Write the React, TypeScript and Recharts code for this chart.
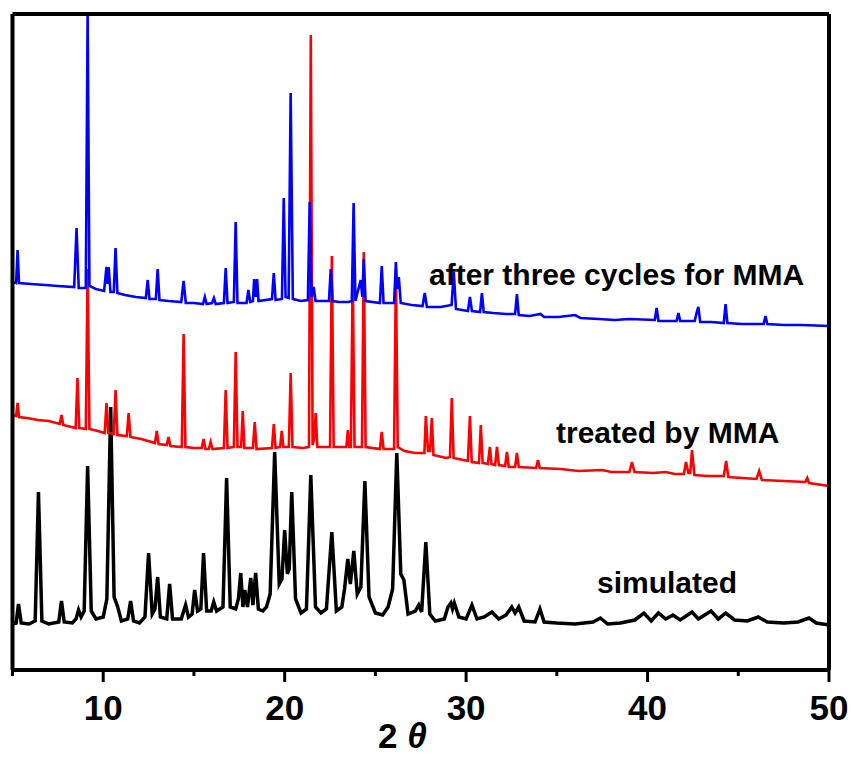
import { LineChart, Line, XAxis, YAxis } from "recharts";

// 2θ / intensity pairs (intensity in arbitrary units, offsets included)
const SIMULATED: [number, number][] = [
  [5.0, 45], [5.2, 46], [5.33, 65], [5.48, 46], [5.9, 45], [6.25, 48], [6.43, 177], [6.62, 48],
  [7.0, 45], [7.55, 47], [7.7, 68], [7.85, 47], [8.3, 46], [8.5, 50], [8.64, 59], [8.78, 52],
  [8.95, 58], [9.14, 203], [9.34, 58], [9.6, 50], [10.0, 52], [10.2, 70], [10.41, 262], [10.6, 72],
  [10.8, 62], [11.0, 48], [11.35, 50], [11.51, 68], [11.67, 48], [12.0, 46], [12.3, 52], [12.5, 116],
  [12.7, 55], [12.85, 60], [13.0, 92], [13.15, 52], [13.5, 50], [13.66, 85], [13.82, 50], [14.3, 50],
  [14.54, 64], [14.7, 52], [14.9, 55], [15.04, 79], [15.2, 58], [15.38, 60], [15.53, 116], [15.7, 58],
  [15.95, 58], [16.09, 67], [16.25, 58], [16.6, 62], [16.8, 191], [17.0, 62], [17.3, 60], [17.45, 70],
  [17.58, 96], [17.7, 62], [17.8, 79], [17.95, 62], [18.13, 91], [18.25, 64], [18.4, 96], [18.55, 60],
  [18.8, 58], [19.0, 62], [19.2, 75], [19.45, 217], [19.7, 85], [19.85, 90], [20.0, 139], [20.15, 95],
  [20.25, 100], [20.39, 177], [20.6, 70], [20.9, 56], [21.2, 60], [21.44, 194], [21.7, 62], [22.0, 56],
  [22.3, 60], [22.6, 137], [22.85, 58], [23.15, 62], [23.3, 80], [23.48, 110], [23.62, 85], [23.81, 118],
  [24.0, 75], [24.2, 82], [24.42, 188], [24.65, 72], [25.0, 56], [25.4, 54], [25.7, 62], [25.95, 80],
  [26.18, 216], [26.4, 95], [26.57, 89], [26.8, 55], [27.2, 58], [27.39, 64], [27.55, 57], [27.78, 127],
  [28.0, 55], [28.3, 48], [28.8, 50], [29.0, 62], [29.16, 66], [29.25, 60], [29.35, 66], [29.6, 52],
  [30.0, 50], [30.32, 64], [30.6, 50], [31.0, 52], [31.42, 57], [31.8, 50], [32.2, 54], [32.52, 62],
  [32.7, 56], [32.9, 62], [33.2, 48], [33.8, 47], [34.07, 60], [34.3, 47], [35.0, 46], [36.0, 45],
  [37.0, 47], [37.4, 51], [37.8, 45], [38.5, 46], [39.3, 49], [39.8, 56], [40.2, 48], [40.6, 56],
  [41.0, 50], [41.4, 54], [41.8, 49], [42.45, 57], [42.8, 50], [43.5, 58], [43.9, 50], [44.3, 56],
  [44.8, 49], [45.5, 48], [46.1, 52], [46.6, 47], [47.5, 46], [48.3, 47], [48.9, 51], [49.3, 46],
  [50.0, 44],
];

const TREATED: [number, number][] = [
  [5.0, 254], [5.2, 253], [5.28, 266], [5.36, 252], [5.8, 251], [6.4, 249], [7.0, 248], [7.6, 245],
  [7.7, 254], [7.8, 244], [8.48, 241], [8.58, 291], [8.68, 241], [9.04, 240], [9.14, 400], [9.24, 240],
  [9.7, 238], [10.08, 236], [10.18, 266], [10.28, 236], [10.58, 235], [10.68, 279], [10.78, 234],
  [11.3, 233], [11.4, 256], [11.5, 232], [12.1, 230], [12.85, 226], [12.95, 238], [13.05, 225],
  [13.5, 224], [13.6, 232], [13.7, 223], [14.33, 222], [14.43, 335], [14.53, 222], [15.0, 221],
  [15.43, 221], [15.53, 230], [15.63, 220], [15.82, 220], [15.92, 227], [16.02, 220], [16.65, 221],
  [16.75, 279], [16.85, 221], [17.2, 222], [17.3, 317], [17.4, 222], [17.6, 222], [17.69, 258],
  [17.78, 221], [18.25, 221], [18.35, 247], [18.45, 220], [19.3, 221], [19.4, 245], [19.5, 221],
  [19.75, 222], [19.84, 238], [19.93, 222], [20.23, 222], [20.33, 296], [20.43, 222], [21.0, 221],
  [21.34, 222], [21.44, 634], [21.54, 224], [21.62, 230], [21.71, 256], [21.8, 222], [22.5, 222],
  [22.6, 413], [22.7, 222], [23.4, 222], [23.48, 239], [23.56, 222], [23.65, 222], [23.75, 399],
  [23.85, 222], [24.26, 222], [24.36, 417], [24.46, 222], [25.25, 220], [25.35, 237], [25.45, 220],
  [26.03, 220], [26.13, 399], [26.23, 222], [26.6, 218], [27.2, 216], [27.7, 216], [27.78, 253],
  [27.9, 218], [28.01, 218], [28.11, 251], [28.2, 214], [28.9, 211], [29.11, 212], [29.21, 271],
  [29.31, 211], [30.1, 208], [30.21, 253], [30.31, 207], [30.71, 206], [30.81, 244], [30.91, 206],
  [31.2, 205], [31.31, 222], [31.4, 205], [31.6, 204], [31.7, 222], [31.8, 204], [32.15, 203],
  [32.25, 217], [32.35, 202], [32.7, 202], [32.8, 216], [32.9, 202], [33.86, 201], [33.96, 209],
  [34.06, 201], [35.2, 200], [36.2, 198], [37.5, 199], [38.0, 197], [39.0, 197], [39.14, 207],
  [39.28, 197], [40.3, 196], [41.0, 197], [41.5, 195], [42.0, 195], [42.12, 207], [42.25, 196],
  [42.35, 196], [42.45, 219], [42.58, 194], [43.3, 193], [44.2, 193], [44.33, 208], [44.45, 192],
  [45.2, 191], [46.0, 190], [46.15, 198], [46.3, 189], [47.5, 188], [48.7, 187], [48.8, 191],
  [48.9, 186], [50.0, 183],
];

const CYCLED: [number, number][] = [
  [5.0, 387], [5.2, 386], [5.28, 419], [5.36, 386], [6.0, 385], [6.8, 384], [7.5, 383], [8.4, 382],
  [8.53, 441], [8.65, 381], [9.04, 381], [9.14, 655], [9.24, 383], [9.6, 380], [10.05, 378],
  [10.18, 402], [10.24, 385], [10.3, 402], [10.4, 377], [10.58, 377], [10.68, 421], [10.78, 376],
  [11.2, 374], [11.8, 372], [12.35, 371], [12.45, 389], [12.55, 370], [12.9, 370], [13.0, 400],
  [13.1, 369], [13.6, 368], [14.3, 367], [14.43, 388], [14.55, 366], [15.0, 366], [15.5, 365],
  [15.6, 372], [15.7, 365], [16.0, 366], [16.1, 371], [16.2, 365], [16.65, 366], [16.75, 401],
  [16.85, 366], [17.2, 367], [17.3, 447], [17.4, 366], [17.9, 366], [18.0, 379], [18.1, 367],
  [18.25, 368], [18.32, 390], [18.4, 372], [18.48, 390], [18.56, 368], [19.3, 370], [19.4, 396],
  [19.5, 369], [19.85, 370], [19.95, 471], [20.05, 372], [20.22, 371], [20.33, 576], [20.45, 370],
  [20.9, 368], [21.28, 369], [21.38, 467], [21.48, 372], [21.6, 382], [21.7, 368], [22.44, 368],
  [22.54, 400], [22.64, 368], [23.0, 367], [23.5, 367], [23.7, 368], [23.8, 466], [23.9, 368],
  [24.19, 389], [24.28, 372], [24.36, 410], [24.46, 368], [25.25, 366], [25.35, 403], [25.45, 366],
  [26.03, 366], [26.13, 407], [26.2, 380], [26.29, 392], [26.4, 366], [27.0, 364], [27.6, 363],
  [27.72, 376], [27.84, 362], [28.6, 362], [29.2, 364], [29.32, 397], [29.44, 360], [30.1, 358],
  [30.21, 372], [30.32, 358], [30.77, 357], [30.87, 376], [30.97, 357], [31.5, 356], [32.2, 355],
  [32.7, 355], [32.8, 375], [32.9, 354], [33.5, 353], [34.1, 355], [34.3, 352], [35.1, 352],
  [36.0, 354], [36.3, 351], [37.3, 350], [38.2, 349], [39.0, 350], [40.4, 349], [40.5, 361],
  [40.6, 348], [41.2, 348], [41.6, 348], [41.7, 356], [41.8, 348], [42.6, 348], [42.7, 356],
  [42.8, 362], [42.9, 347], [43.5, 347], [44.2, 346], [44.3, 365], [44.4, 346], [45.2, 345],
  [46.4, 345], [46.5, 353], [46.6, 345], [47.5, 344], [48.5, 344], [50.0, 343],
];

const X_TICKS = [5, 10, 15, 20, 25, 30, 35, 40, 45, 50];
const TICK_LABELS = [10, 20, 30, 40, 50];

const toPoints = (arr: [number, number][]) => arr.map(([x, y]) => ({ x, y }));

const FONT = "'Liberation Sans', Arial, sans-serif";

function Tick(props: any) {
  const { x, y, payload } = props;
  const v = payload.value;
  const major = v % 10 === 0;
  return (
    <g>
      <line x1={x} x2={x} y1={y} y2={y + (major ? 12 : 6)} stroke="#000" strokeWidth={3} />
      {TICK_LABELS.includes(v) && (
        <text
          x={x}
          y={y + 50}
          textAnchor="middle"
          fontFamily="'Liberation Sans Narrow', 'Arial Narrow', 'Liberation Sans', sans-serif"
          fontWeight="bold"
          fontSize={35}
          fill="#000"
        >
          {v}
        </text>
      )}
    </g>
  );
}

export default function App() {
  return (
    <div style={{ position: "absolute", left: 0, top: 0, width: 851, height: 762, background: "#fff" }}>
      <LineChart width={851} height={762} margin={{ top: 12, right: 20, bottom: 32, left: 10.5 }}>
        <XAxis
          dataKey="x"
          type="number"
          domain={[5, 50]}
          ticks={X_TICKS}
          height={60}
          tickSize={0}
          tickMargin={0}
          tickLine={false}
          tick={<Tick />}
          interval={0}
          axisLine={{ stroke: "#000", strokeWidth: 4 }}
        />
        <XAxis
          xAxisId="top"
          orientation="top"
          dataKey="x"
          type="number"
          domain={[5, 50]}
          height={2}
          tick={false}
          tickLine={false}
          axisLine={{ stroke: "#000", strokeWidth: 4 }}
        />
        <YAxis
          type="number"
          domain={[-1, 655]}
          allowDataOverflow
          width={2}
          tick={false}
          tickLine={false}
          axisLine={{ stroke: "#000", strokeWidth: 4 }}
        />
        <YAxis
          yAxisId="right"
          orientation="right"
          type="number"
          domain={[-1, 655]}
          width={2}
          tick={false}
          tickLine={false}
          axisLine={{ stroke: "#000", strokeWidth: 4 }}
        />
        <Line data={toPoints(SIMULATED)} dataKey="y" type="linear" stroke="#000000" strokeWidth={3.5} dot={false} isAnimationActive={false} />
        <Line data={toPoints(TREATED)} dataKey="y" type="linear" stroke="#ff0000" strokeWidth={2.6} dot={false} isAnimationActive={false} />
        <Line data={toPoints(CYCLED)} dataKey="y" type="linear" stroke="#0000ff" strokeWidth={2.6} dot={false} isAnimationActive={false} />
      </LineChart>
      <svg width={851} height={762} style={{ position: "absolute", left: 0, top: 0, pointerEvents: "none" }}>
        <g fontFamily={FONT} fontWeight="bold" fontSize={30} fill="#000">
          <text x={429} y={285}>after three cycles for MMA</text>
          <text x={556} y={443}>treated by MMA</text>
          <text x={597} y={593}>simulated</text>
        </g>
        <text x={378} y={748} fontFamily={FONT} fontWeight="bold" fontSize={35} fill="#000">
          2 <tspan fontStyle="italic">θ</tspan>
        </text>
      </svg>
    </div>
  );
}
